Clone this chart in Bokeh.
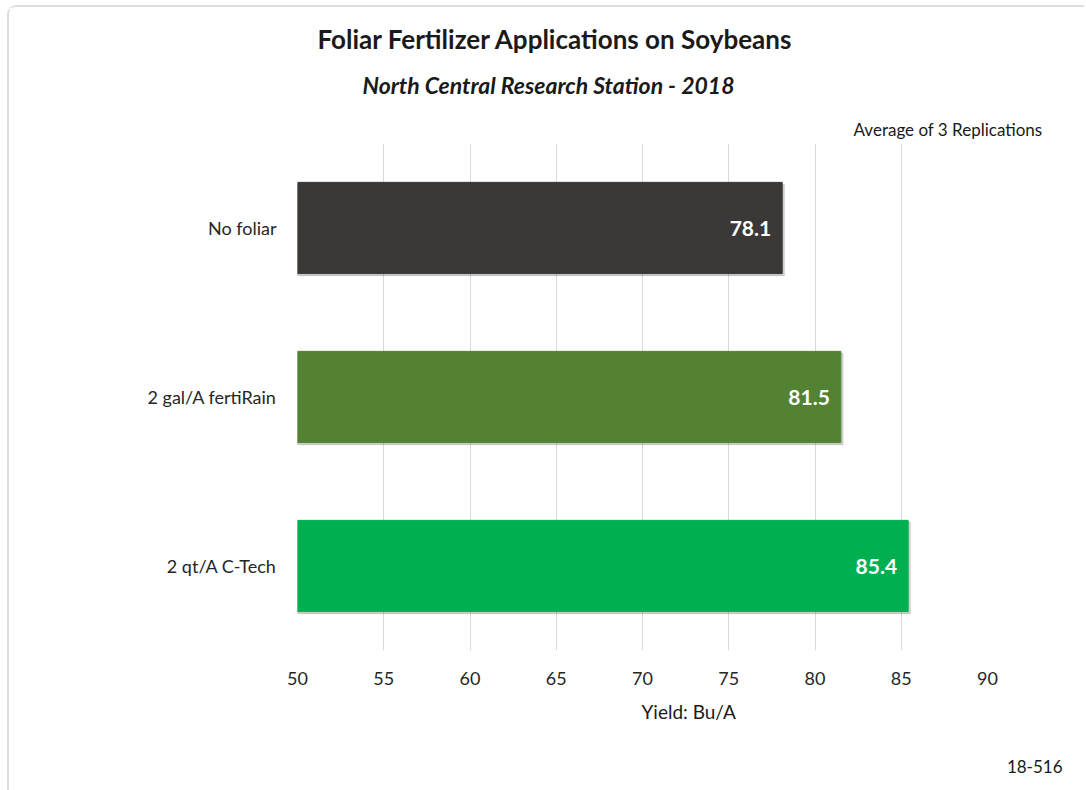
from bokeh.plotting import figure
from bokeh.models import ColumnDataSource, FactorRange, Range1d, FixedTicker, LabelSet, Title
from bokeh.core.properties import value
from bokeh.transform import dodge
from bokeh.embed import file_html
from bokeh.resources import INLINE

categories = ["No foliar", "2 gal/A fertiRain", "2 qt/A C-Tech"]
yields = [78.1, 81.5, 85.4]
colors = ["#3b3938", "#548235", "#00b050"]
x_ticks = [50, 55, 60, 65, 70, 75, 80, 85, 90]

FONT = "Lato"
ML, MT, FW, FH = 288, 136, 690, 507

src = ColumnDataSource(dict(cat=categories, y=yields, color=colors,
                            label=[f"{v:.1f}" for v in yields]))

p = figure(frame_width=FW, frame_height=FH, output_backend="svg", toolbar_location=None,
           y_range=FactorRange(*reversed(categories)),
           x_range=Range1d(50, 90), title=None)
p.min_border_left = ML
p.min_border_right = 97
p.min_border_top = MT
p.min_border_bottom = 130
p.outline_line_color = None
p.background_fill_color = "white"
p.border_fill_color = "white"
p.styles = {"margin-left": "7px", "margin-top": "5px",
            "border-left": "2px solid #dedede", "border-top": "2px solid #dedede",
            "border-top-left-radius": "9px"}

# subtle drop shadow under bars
p.hbar(y=dodge("cat", -0.012, range=p.y_range), left=50, right=dodge("y", 0.12),
       height=0.54, color="#000000", alpha=0.15, source=src)
p.hbar(y="cat", left=50, right="y", height=0.54, color="color", source=src)

p.add_layout(LabelSet(x="y", y="cat", text="label", source=src, x_offset=-11,
                      text_align="right", text_baseline="middle",
                      text_color="white", text_font=value(FONT),
                      text_font_style="bold", text_font_size="21px"))

p.xgrid.grid_line_color = "#d9d9d9"
p.ygrid.grid_line_color = None
p.xaxis.ticker = FixedTicker(ticks=x_ticks)
p.xaxis.axis_line_color = None
p.xaxis.major_tick_line_color = None
p.xaxis.minor_tick_line_color = None
p.xaxis.major_label_standoff = 15
p.xaxis.major_label_text_font = FONT
p.xaxis.major_label_text_font_size = "18px"
p.xaxis.major_label_text_color = "#262626"

p.yaxis.axis_line_color = None
p.yaxis.major_tick_line_color = None
p.yaxis.major_label_standoff = 15
p.yaxis.major_label_text_font = FONT
p.yaxis.major_label_text_font_size = "18px"
p.yaxis.major_label_text_color = "#262626"

def title(text, side, size, style="normal", align="left", offset=0, standoff=0):
    p.add_layout(Title(text=text, text_font=FONT, text_font_size=size,
                       text_font_style=style, align=align, offset=offset,
                       standoff=standoff, text_color="#1a1a1a"), side)

title("Average of 3 Replications", "above", "17px", align="right", offset=-55, standoff=8)
title("North Central Research Station - 2018", "above", "23px", "bold italic", offset=65, standoff=28)
title("Foliar Fertilizer Applications on Soybeans", "above", "26px", "bold", offset=20, standoff=0)
title("Yield: Bu/A", "below", "19px", offset=344, standoff=20)
title("18-516", "below", "17px", align="right", offset=-75, standoff=50)

open("out.html", "w").write(file_html(p, INLINE))
